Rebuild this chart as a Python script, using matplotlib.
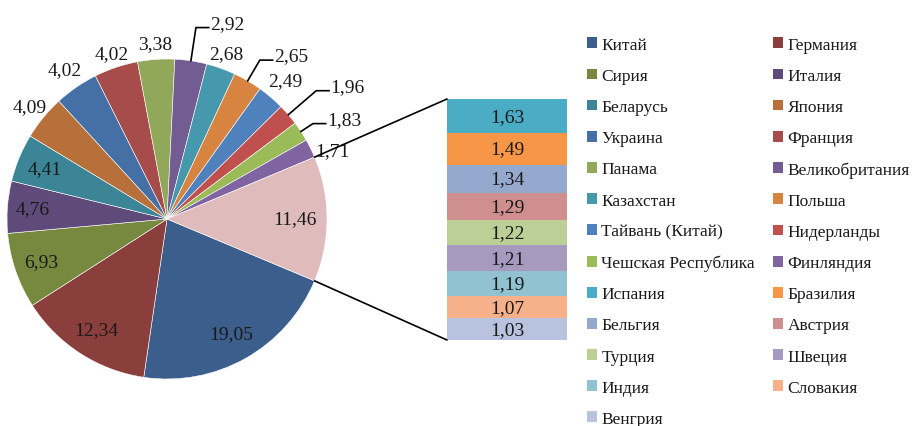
import numpy as np
import matplotlib
matplotlib.use('Agg')
import matplotlib.pyplot as plt
from matplotlib.patches import ConnectionPatch, Rectangle

plt.rcParams['font.family'] = ['Liberation Serif', 'DejaVu Serif']

# pie part (last value = sum of bar part, "other")
pie_names = ['Китай', 'Германия', 'Сирия', 'Италия', 'Беларусь', 'Япония',
             'Украина', 'Франция', 'Панама', 'Великобритания', 'Казахстан',
             'Польша', 'Тайвань (Китай)', 'Нидерланды', 'Чешская Республика',
             'Финляндия']
pie_values = [19.05, 12.34, 6.93, 4.76, 4.41, 4.09, 4.02, 4.02, 3.38, 2.92,
              2.68, 2.65, 2.49, 1.96, 1.83, 1.71]
other_value = 11.46
pie_colors = ['#3b5e8c', '#8b3f3d', '#77893f', '#5f4b7a', '#3b8597', '#b7703a',
              '#4570a6', '#a64c4a', '#91a75a', '#735c91', '#4699ad', '#d6843f',
              '#4f81bd', '#c0504d', '#9bbb59', '#8064a2']
other_color = '#dfbbbb'

# bar part, top to bottom
bar_names = ['Испания', 'Бразилия', 'Бельгия', 'Австрия', 'Турция', 'Швеция',
             'Индия', 'Словакия', 'Венгрия']
bar_values = [1.63, 1.49, 1.34, 1.29, 1.22, 1.21, 1.19, 1.07, 1.03]
bar_colors = ['#4bacc6', '#f79646', '#95a9ce', '#cf8f8e', '#bccf96', '#a69abf',
              '#90c2d1', '#f7b18a', '#b7c3df']

# label placement: radius factor, leader line flag
label_r = [0.82, 0.82, 0.83, 0.84, 0.83, 1.11, 1.13, 1.09, 1.10, 1.21,
           1.10, 1.15, 1.14, 1.23, 1.09, 1.12, 0.80]
leader = [False] * 9 + [True, False, True, False, True, True, False, False]

W, H = 916, 427
fig = plt.figure(figsize=(W / 100, H / 100), dpi=100)

# pie axes
cx, cy, R = 167, 220, 160
ax = fig.add_axes([(cx - R) / W, (H - cy - R) / H, 2 * R / W, 2 * R / H])
vals = pie_values + [other_value]
cols = pie_colors + [other_color]
total = sum(vals)
start = -other_value / total * 360 / 2
wedges, _ = ax.pie(vals, colors=cols, startangle=start, counterclock=False,
                   radius=1, wedgeprops=dict(edgecolor='white', linewidth=0.4))
ax.set_xlim(-1, 1)
ax.set_ylim(-1, 1)
ax.axis('off')

for i, w in enumerate(wedges):
    mid = np.deg2rad((w.theta1 + w.theta2) / 2)
    txt = f'{vals[i]:.2f}'.replace('.', ',')
    r = label_r[i]
    if leader[i]:
        p0 = (np.cos(mid), np.sin(mid))
        p1 = (r * np.cos(mid), r * np.sin(mid))
        p2 = (p1[0] + 0.08, p1[1])
        ax.plot([p0[0], p1[0], p2[0]], [p0[1], p1[1], p2[1]], color='black',
                lw=1.2, clip_on=False)
        ax.annotate(txt, p2, xytext=(1, 3), textcoords='offset points',
                    ha='left', va='center', fontsize=14, color='#1a1a1a',
                    annotation_clip=False)
    else:
        if i == 15:
            mid = np.deg2rad(22.3)
        ax.text(r * np.cos(mid), r * np.sin(mid), txt, ha='center', va='center',
                fontsize=14, color='#1a1a1a', clip_on=False)

# bar axes
bx0, bx1, by0, by1 = 447, 567, 100, 341
bax = fig.add_axes([bx0 / W, (H - by1) / H, (bx1 - bx0) / W, (by1 - by0) / H])
btotal = sum(bar_values)
bottom = btotal
for v, c in zip(bar_values, bar_colors):
    bottom -= v
    bax.bar(0.5, v, bottom=bottom, width=1, color=c, edgecolor='none')
    bax.text(0.5, bottom + v / 2, f'{v:.2f}'.replace('.', ','), ha='center',
             va='center', fontsize=14, color='#1a1a1a')
bax.set_xlim(0, 1)
bax.set_ylim(0, btotal)
bax.axis('off')

# connector lines
t1 = np.deg2rad(wedges[-1].theta2)
t2 = np.deg2rad(wedges[-1].theta1)
for t, yb in [(t1, btotal), (t2, 0)]:
    con = ConnectionPatch(xyA=(np.cos(t), np.sin(t)), coordsA=ax.transData,
                          xyB=(0, yb), coordsB=bax.transData,
                          color='black', lw=1.2)
    fig.add_artist(con)

# legend, row-major in two columns
names = pie_names + bar_names
colors = pie_colors + bar_colors
handles = [Rectangle((0, 0), 1, 1, facecolor=c, edgecolor='none') for c in colors]
for col, x in [(0, 587), (1, 773)]:
    leg = fig.legend(handles[col::2], names[col::2], loc='upper left',
                     bbox_to_anchor=(x / W, 1 - 38 / H), frameon=False,
                     fontsize=12.5, borderpad=0, borderaxespad=0,
                     handlelength=0.58, handleheight=0.58, handletextpad=0.25,
                     labelspacing=0.87)
    for t in leg.get_texts():
        t.set_color('#1a1a1a')

fig.savefig('out.png', dpi=100)
